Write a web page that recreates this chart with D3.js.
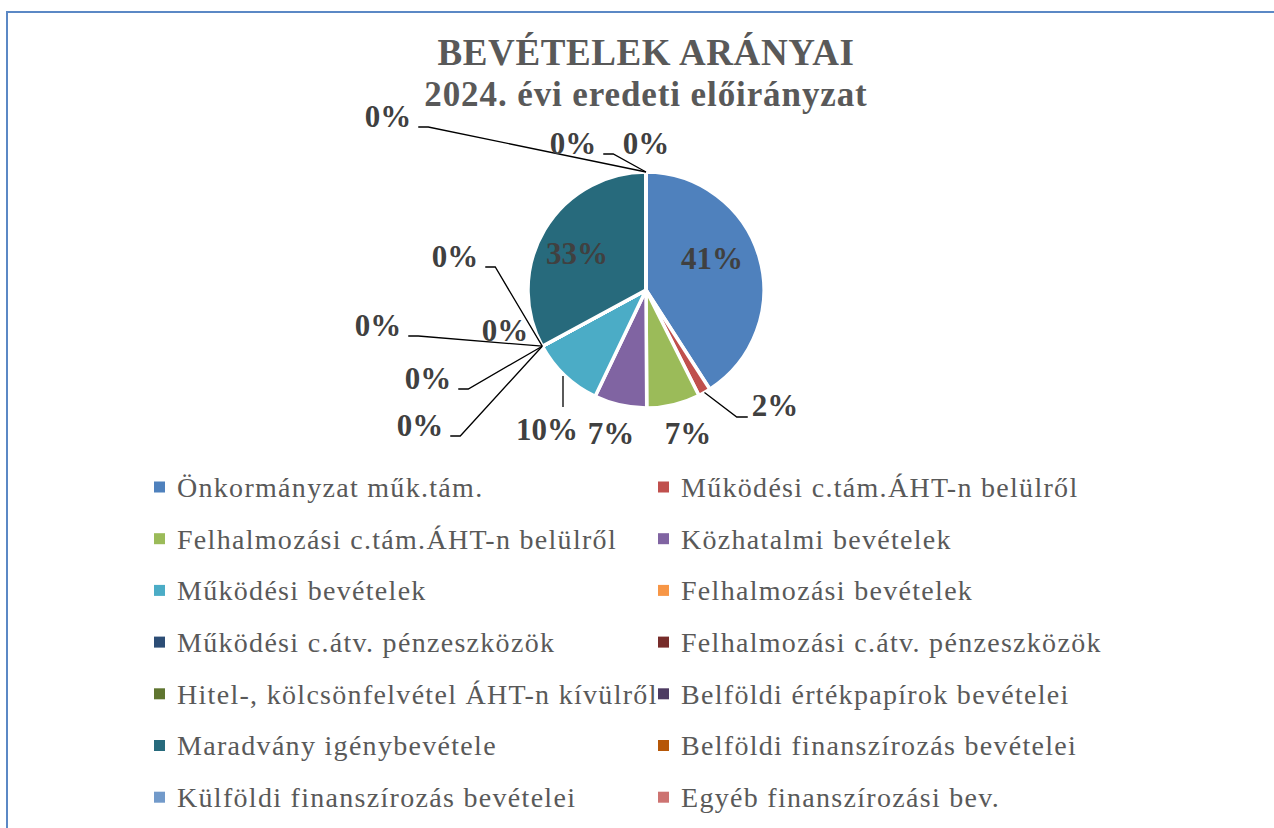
<!DOCTYPE html>
<html>
<head>
<meta charset="utf-8">
<script src="https://cdn.jsdelivr.net/npm/d3@7"></script>
<style>
  body { margin: 0; background: #fff; }
  svg { display: block; font-family: "Liberation Serif", "DejaVu Serif", serif; }
</style>
</head>
<body>
<div id="chart"></div>
<script>
// categories (legend order = slice order)
var categories = [
    "Önkormányzat műk.tám.",
    "Működési c.tám.ÁHT-n belülről",
    "Felhalmozási c.tám.ÁHT-n belülről",
    "Közhatalmi bevételek",
    "Működési bevételek",
    "Felhalmozási bevételek",
    "Működési c.átv. pénzeszközök",
    "Felhalmozási c.átv. pénzeszközök",
    "Hitel-, kölcsönfelvétel ÁHT-n kívülről",
    "Belföldi értékpapírok bevételei",
    "Maradvány igénybevétele",
    "Belföldi finanszírozás bevételei",
    "Külföldi finanszírozás bevételei",
    "Egyéb finanszírozási bev."
];
// share of revenues (%)
var values = [40.9, 1.7, 7.3, 7.2, 10.0, 0, 0, 0, 0, 0, 32.9, 0, 0, 0];
var colors = ["#4F81BD", "#C0504D", "#9BBB59", "#8064A2", "#4BACC6", "#F79646", "#2C4D75",
              "#772C2A", "#5F7530", "#4D3B62", "#276A7C", "#B65708", "#729ACA", "#CD7371"];
var titleLines = ["BEVÉTELEK ARÁNYAI", "2024. évi eredeti előirányzat"];

// where each data label sits (relative to pie centre) and how its leader line goes
var labelLayout = [
    {dx: 66, dy: -32, lead: null},
    {dx: 129, dy: 115, lead: "l"},
    {dx: 42, dy: 143, lead: null},
    {dx: -35, dy: 143, lead: null},
    {dx: -99, dy: 139, lead: "v"},
    {dx: -226, dy: 135, lead: "r"},
    {dx: -218, dy: 88, lead: "r"},
    {dx: -141, dy: 40, lead: null},
    {dx: -268, dy: 35, lead: "r"},
    {dx: -191, dy: -34, lead: "r"},
    {dx: -69, dy: -37, lead: null},
    {dx: -258, dy: -174, lead: "r"},
    {dx: -73, dy: -147, lead: "r"},
    {dx: 0, dy: -147, lead: null}
];

function init() {
    var w = 1274, h = 828;
    var cx = 646, cy = 290, r = 118;

    var svg = d3.select("#chart").append("svg")
        .attr("width", w)
        .attr("height", h);

    // chart area border (cut off at right / bottom)
    svg.append("rect")
        .attr("x", 7).attr("y", 12)
        .attr("width", w + 20).attr("height", h + 20)
        .attr("fill", "none")
        .attr("stroke", "#5B88C5")
        .attr("stroke-width", 2);

    // title
    svg.selectAll("text.title")
        .data(titleLines)
        .enter().append("text")
        .attr("class", "title")
        .attr("x", cx)
        .attr("y", function(d, i) { return i === 0 ? 65 : 106; })
        .attr("text-anchor", "middle")
        .attr("font-size", function(d, i) { return i === 0 ? 37 : 35; })
        .attr("letter-spacing", function(d, i) { return i === 0 ? 0.6 : 0.9; })
        .attr("font-weight", "bold")
        .attr("fill", "#595959")
        .text(function(d) { return d; });

    var pie = d3.pie().sort(null).value(function(d) { return d; });
    var arcs = pie(values);
    var arc = d3.arc().innerRadius(0).outerRadius(r);

    var g = svg.append("g").attr("transform", "translate(" + cx + "," + cy + ")");

    g.selectAll("path.slice")
        .data(arcs)
        .enter().append("path")
        .attr("class", "slice")
        .attr("d", arc)
        .attr("fill", function(d, i) { return colors[i]; })
        .attr("stroke", "#fff")
        .attr("stroke-width", 3.5)
        .attr("stroke-linejoin", "round");

    // data labels
    var fmt = function(v) { return Math.round(v) + "%"; };
    var lbl = g.selectAll("text.lbl")
        .data(arcs)
        .enter().append("text")
        .attr("class", "lbl")
        .attr("x", function(d, i) { return labelLayout[i].dx; })
        .attr("y", function(d, i) { return labelLayout[i].dy; })
        .attr("dy", "0.35em")
        .attr("text-anchor", "middle")
        .attr("font-size", 31)
        .attr("font-weight", "bold")
        .attr("fill", "#404040")
        .text(function(d) { return fmt(d.value); });

    // leader lines
    lbl.each(function(d, i) {
        var L = labelLayout[i];
        if (!L.lead) return;
        var tw = this.getComputedTextLength();
        var mid = (d.startAngle + d.endAngle) / 2;
        var ex = Math.sin(mid) * r, ey = -Math.cos(mid) * r;
        var pts;
        if (L.lead === "r") {
            var x0 = L.dx + tw / 2 + 7, y0 = L.dy + 11;
            pts = [[x0, y0], [x0 + 10, y0], [ex, ey]];
        } else if (L.lead === "l") {
            var x1 = L.dx - tw / 2 - 4, y1 = L.dy + 12;
            pts = [[x1, y1], [x1 - 11, y1], [ex, ey]];
        } else {
            var xv = L.dx + 16;
            var yv = Math.sqrt(r * r - xv * xv) + 2;
            pts = [[xv, L.dy - 22], [xv, yv]];
        }
        g.append("path")
            .attr("d", d3.line()(pts))
            .attr("fill", "none")
            .attr("stroke", "#000")
            .attr("stroke-width", 1.3);
    });
    lbl.raise();

    // legend, two columns
    var legend = svg.selectAll("g.leg")
        .data(categories)
        .enter().append("g")
        .attr("class", "leg")
        .attr("transform", function(d, i) {
            return "translate(" + (i % 2 === 0 ? 154 : 658) + "," + (487 + Math.floor(i / 2) * 51.7) + ")";
        });
    legend.append("rect")
        .attr("x", 0).attr("y", -5.5)
        .attr("width", 11).attr("height", 11)
        .attr("fill", function(d, i) { return colors[i]; });
    legend.append("text")
        .attr("x", 23)
        .attr("y", 0)
        .attr("dy", "0.35em")
        .attr("font-size", 28)
        .attr("letter-spacing", 1.3)
        .attr("fill", "#595959")
        .text(function(d) { return d; });
}

window.onload = init;
</script>
</body>
</html>
